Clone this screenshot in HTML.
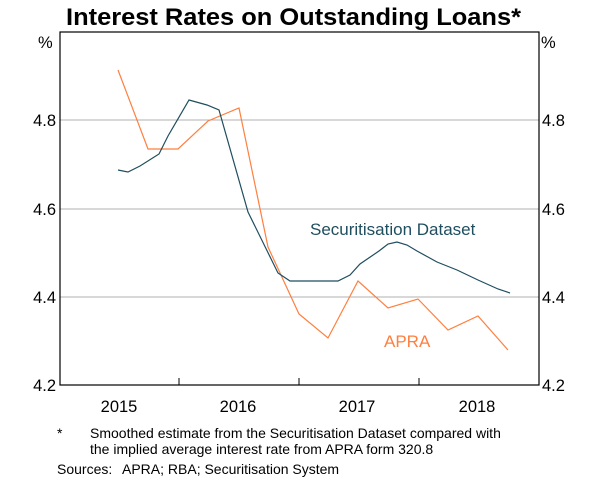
<!DOCTYPE html><html><head><style>body{margin:0;background:#fff;width:600px;height:482px;overflow:hidden}</style></head><body>
<svg width="600" height="482" xmlns="http://www.w3.org/2000/svg" font-family="Liberation Sans, Arial, sans-serif">
<text x="66" y="25" font-size="24" font-weight="bold" textLength="455" lengthAdjust="spacingAndGlyphs">Interest Rates on Outstanding Loans*</text>
<g stroke="#b0b0b0" stroke-width="1"><line x1="60" y1="120" x2="539" y2="120"/><line x1="60" y1="209" x2="539" y2="209"/><line x1="60" y1="297" x2="539" y2="297"/></g>
<rect x="60" y="32" width="479" height="353" fill="none" stroke="#000" stroke-width="1.2"/>
<g stroke="#000"><line x1="179" y1="385" x2="179" y2="378"/><line x1="299" y1="385" x2="299" y2="378"/><line x1="419" y1="385" x2="419" y2="378"/></g>
<g font-size="16.5"><text x="38" y="48">%</text><text x="541" y="48">%</text>
<text x="56" y="126" text-anchor="end">4.8</text><text x="56" y="215" text-anchor="end">4.6</text><text x="56" y="303" text-anchor="end">4.4</text><text x="56" y="391" text-anchor="end">4.2</text>
<text x="542" y="126">4.8</text><text x="542" y="215">4.6</text><text x="542" y="303">4.4</text><text x="542" y="391">4.2</text>
<text x="119" y="412" text-anchor="middle">2015</text><text x="238" y="412" text-anchor="middle">2016</text><text x="357" y="412" text-anchor="middle">2017</text><text x="477" y="412" text-anchor="middle">2018</text></g>
<polyline fill="none" stroke="#ff7f3f" stroke-width="1.2" points="118,70 148,149 178,149 208,121 239,108 268,247 299,314 328,338 358,281 388,308 418,299 448,330 478,316 508,350"/>
<polyline fill="none" stroke="#1f4e5f" stroke-width="1.2" points="118,170 128,172 140,166 159,154 168,136 189,100 207,105 219,110 248,212 278,273 290,281 338,281 350,275 360,264 379,251 388,244 397,242 407,245 417,251 437,262 457,270 478,280 498,289 510,293"/>
<text x="310" y="235" font-size="17" fill="#1f4e5f">Securitisation Dataset</text>
<text x="384" y="347" font-size="17" fill="#ff7f3f">APRA</text>
<g font-size="14"><text x="57" y="438">*</text><text x="90" y="438">Smoothed estimate from the Securitisation Dataset compared with</text><text x="90" y="454">the implied average interest rate from APRA form 320.8</text><text x="57" y="474">Sources:</text><text x="122" y="474">APRA; RBA; Securitisation System</text></g>
</svg></body></html>
